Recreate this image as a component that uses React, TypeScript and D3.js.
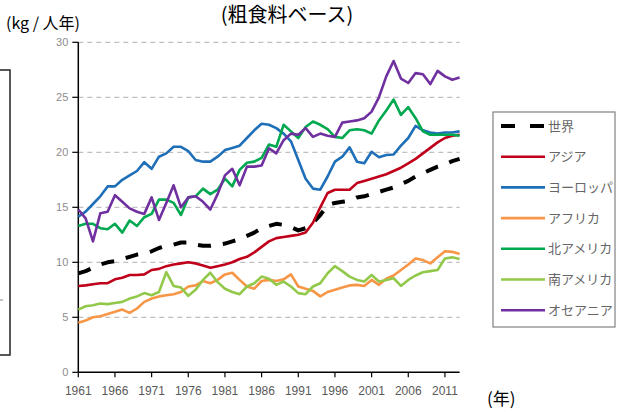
import React from "react";
import * as d3 from "d3";

const years = d3.range(1961, 2014);

const world = [9.0, 9.2, 9.5, 9.8, 10.0, 10.1, 10.3, 10.5, 10.7, 10.8, 11.0, 11.3, 11.5, 11.6, 11.8, 11.8, 11.6, 11.5, 11.5, 11.6, 11.7, 11.9, 12.1, 12.4, 12.7, 13.1, 13.3, 13.5, 13.4, 13.2, 12.9, 13.1, 13.6, 14.3, 15.2, 15.4, 15.5, 15.6, 15.9, 16.0, 16.2, 16.4, 16.6, 16.8, 17.1, 17.4, 17.8, 18.1, 18.4, 18.7, 18.9, 19.2, 19.4];
const asia = [7.85, 7.9, 8.0, 8.1, 8.1, 8.45, 8.6, 8.85, 8.85, 8.9, 9.3, 9.4, 9.65, 9.8, 9.9, 10.0, 9.9, 9.7, 9.5, 9.65, 9.8, 10.0, 10.3, 10.5, 10.9, 11.4, 11.9, 12.2, 12.3, 12.4, 12.5, 12.7, 13.6, 15.0, 16.3, 16.6, 16.6, 16.6, 17.2, 17.4, 17.6, 17.8, 18.0, 18.3, 18.6, 19.0, 19.4, 19.9, 20.4, 20.9, 21.3, 21.5, 21.6];
const europe = [14.15, 14.6, 15.3, 16.0, 16.9, 16.9, 17.5, 17.9, 18.3, 19.1, 18.5, 19.6, 19.9, 20.5, 20.5, 20.1, 19.3, 19.15, 19.15, 19.6, 20.2, 20.4, 20.6, 21.3, 22.0, 22.6, 22.5, 22.2, 21.7, 21.0, 19.3, 17.6, 16.7, 16.6, 17.8, 19.15, 19.6, 20.45, 19.15, 19.0, 20.05, 19.55, 19.75, 19.8, 20.6, 21.3, 22.4, 22.0, 21.8, 21.7, 21.8, 21.8, 21.9];
const africa = [4.5, 4.7, 5.0, 5.1, 5.3, 5.5, 5.7, 5.4, 5.8, 6.4, 6.7, 6.9, 7.0, 7.1, 7.3, 7.8, 7.9, 8.3, 8.1, 8.4, 8.9, 9.05, 8.4, 7.8, 7.6, 8.3, 8.4, 8.3, 8.45, 8.9, 7.8, 7.6, 7.4, 6.9, 7.3, 7.5, 7.7, 7.9, 7.95, 7.85, 8.4, 7.95, 8.5, 8.8, 9.3, 9.8, 10.35, 10.2, 9.9, 10.45, 11.0, 10.95, 10.75];
const northAmerica = [13.3, 13.5, 13.5, 13.1, 13.0, 13.5, 12.7, 13.8, 13.3, 14.1, 14.4, 15.7, 15.7, 15.4, 14.3, 15.9, 16.0, 16.7, 16.2, 16.6, 17.6, 16.9, 18.4, 19.05, 19.15, 19.5, 20.7, 20.5, 22.5, 21.9, 21.3, 22.3, 22.8, 22.5, 22.1, 21.4, 21.3, 22.0, 22.1, 22.0, 21.7, 22.9, 23.8, 24.8, 23.4, 24.1, 23.1, 21.9, 21.6, 21.6, 21.6, 21.6, 21.5];
const southAmerica = [5.7, 6.0, 6.1, 6.25, 6.2, 6.3, 6.4, 6.7, 6.9, 7.2, 7.0, 7.3, 9.1, 7.85, 7.7, 6.95, 7.5, 8.4, 9.05, 8.2, 7.6, 7.3, 7.1, 7.8, 8.1, 8.7, 8.5, 7.95, 8.25, 7.8, 7.2, 7.1, 7.8, 8.1, 9.0, 9.65, 9.2, 8.7, 8.4, 8.25, 8.85, 8.25, 8.4, 8.55, 7.85, 8.4, 8.8, 9.1, 9.2, 9.3, 10.35, 10.45, 10.3];
const oceania = [14.8, 14.0, 11.9, 14.45, 14.6, 16.1, 15.5, 14.9, 14.6, 14.4, 15.9, 13.85, 15.4, 17.0, 15.0, 15.9, 16.0, 15.5, 14.8, 16.2, 17.9, 18.5, 17.0, 18.7, 18.7, 18.8, 20.35, 19.9, 21.1, 21.7, 21.6, 22.2, 21.4, 21.7, 21.5, 21.4, 22.7, 22.8, 22.9, 23.1, 23.7, 25.0, 26.9, 28.3, 26.7, 26.3, 27.2, 27.1, 26.2, 27.4, 26.9, 26.6, 26.8];

const seriesNames = ["世界", "アジア", "ヨーロッパ", "アフリカ", "北アメリカ", "南アメリカ", "オセアニア"];
const seriesValues = [world, asia, europe, africa, northAmerica, southAmerica, oceania];
const seriesColors = ["#000000", "#C0001A", "#1F6FB8", "#F79646", "#00A84F", "#92C94A", "#7030A0"];

const yTicks = [0, 5, 10, 15, 20, 25, 30];
const xTicks = d3.range(1961, 2012, 5);

const App = () => {
  const width = 626;
  const height = 412;
  const x = d3.scaleLinear().domain([1961, 2013]).range([78.3, 459.6]);
  const y = d3.scaleLinear().domain([0, 30]).range([372.3, 42.3]);

  const line = d3
    .line<number>()
    .x((d, i) => x(years[i]))
    .y(d => y(d));

  const cjk = "'Noto Sans CJK JP', 'Noto Sans', sans-serif";
  const tickFont = "'Liberation Sans', Arial, sans-serif";

  return (
    <svg
      width={width}
      height={height}
      style={{ position: "absolute", left: 0, top: 0, background: "#fff" }}
    >
      <rect width={width} height={height} fill="#fff" />

      {/* title, sits at the very top */}
      <text x={287} y={22} textAnchor="middle" fontFamily={cjk} fontSize={20} fill="#000">
        (粗食料ベース)
      </text>
      <text x={6} y={29} fontFamily={cjk} fontSize={16} fill="#000">
        (kg / 人年)
      </text>

      {/* left box from neighbouring chart */}
      <rect x={-10} y={70} width={20} height={285} fill="none" stroke="#222" strokeWidth={1.5} />
      <line x1={0} x2={3} y1={300} y2={300} stroke="#888" strokeWidth={1} />

      {/* gridlines */}
      {yTicks.slice(1).map(t => (
        <line
          key={"g" + t}
          x1={x(1961)}
          x2={x(2013)}
          y1={y(t)}
          y2={y(t)}
          stroke="#BFBFBF"
          strokeWidth={1.3}
          strokeDasharray="5,4"
        />
      ))}

      {/* y axis */}
      <line x1={x(1961)} x2={x(1961)} y1={y(30)} y2={y(0)} stroke="#000" strokeWidth={1.5} />
      {yTicks.map(t => (
        <g key={"y" + t}>
          <line x1={x(1961) - 6} x2={x(1961)} y1={y(t)} y2={y(t)} stroke="#000" strokeWidth={1.2} />
          <text
            x={x(1961) - 10}
            y={y(t)}
            dy="0.35em"
            textAnchor="end"
            fontFamily={tickFont}
            fontSize={11}
            fill="#8C8C8C"
          >
            {t}
          </text>
        </g>
      ))}

      {/* x axis */}
      <line x1={x(1961)} x2={x(2013)} y1={y(0)} y2={y(0)} stroke="#000" strokeWidth={1.5} />
      {xTicks.map(t => (
        <g key={"x" + t}>
          <line x1={x(t)} x2={x(t)} y1={y(0)} y2={y(0) + 5} stroke="#000" strokeWidth={1.2} />
          <text
            x={x(t)}
            y={y(0) + 23}
            textAnchor="middle"
            fontFamily={tickFont}
            fontSize={12}
            fill="#595959"
          >
            {t}
          </text>
        </g>
      ))}
      <text x={487} y={405} fontFamily={cjk} fontSize={17} fill="#000">
        (年)
      </text>

      {/* series */}
      {seriesValues.map((vals, i) => (
        <path
          key={"s" + i}
          d={line(vals) || ""}
          fill="none"
          stroke={seriesColors[i]}
          strokeWidth={i === 0 ? 4 : 2.6}
          strokeDasharray={i === 0 ? "13,12" : undefined}
          strokeLinejoin="round"
        />
      ))}

      {/* legend */}
      <rect x={493} y={112} width={122} height={215} fill="#fff" stroke="#808080" strokeWidth={1.2} />
      {seriesNames.map((name, i) => {
        const ly = 126 + i * 30.7;
        return (
          <g key={"l" + i}>
            <line
              x1={501}
              x2={545}
              y1={ly}
              y2={ly}
              stroke={seriesColors[i]}
              strokeWidth={i === 0 ? 4 : 2.6}
              strokeDasharray={i === 0 ? "14,15" : undefined}
            />
            <text x={548} y={ly} dy="0.35em" fontFamily={cjk} fontSize={13} fill="#666">
              {name}
            </text>
          </g>
        );
      })}
    </svg>
  );
};

export default App;
